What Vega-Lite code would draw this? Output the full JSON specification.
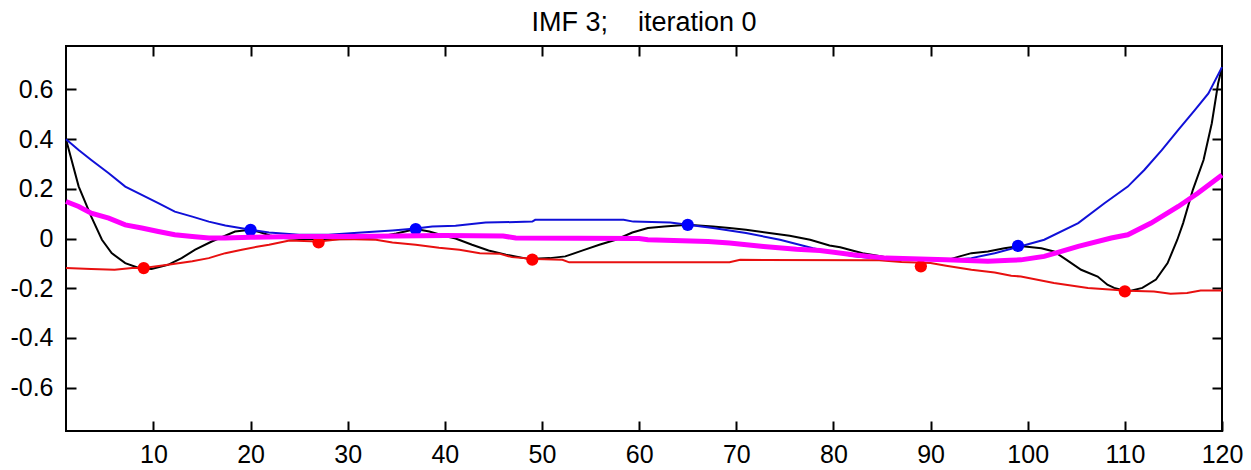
{
  "$schema": "https://vega.github.io/schema/vega-lite/v6.json",
  "width": 1156,
  "height": 385,
  "autosize": "none",
  "padding": {"left": 66, "top": 46, "right": 29, "bottom": 39},
  "background": "white",
  "config": {
    "font": "Liberation Sans",
    "view": {"stroke": "black", "strokeWidth": 2},
    "axis": {"labelFont": "Liberation Sans", "labelFontSize": 25, "labelColor": "black", "tickColor": "black", "tickWidth": 2, "grid": false, "domain": false, "title": null, "labelFlush": false, "labelOverlap": false}
  },
  "title": {"text": "IMF 3;\u00a0\u00a0\u00a0\u00a0iteration 0", "fontSize": 27, "font": "Liberation Sans", "fontWeight": "normal", "color": "black", "anchor": "middle", "baseline": "alphabetic", "offset": -13},
  "datasets": {
    "signal": [
      {"x": 1, "y": 0.40}, {"x": 2.3, "y": 0.21}, {"x": 3.6, "y": 0.088}, {"x": 4.7, "y": -0.005}, {"x": 5.7, "y": -0.059},
      {"x": 7.1, "y": -0.099}, {"x": 8.5, "y": -0.119}, {"x": 9.8, "y": -0.123}, {"x": 11.5, "y": -0.106}, {"x": 12.9, "y": -0.079},
      {"x": 14.3, "y": -0.045}, {"x": 16, "y": -0.012}, {"x": 18.4, "y": 0.028}, {"x": 20, "y": 0.035}, {"x": 21, "y": 0.025},
      {"x": 22, "y": 0.012}, {"x": 23, "y": 0.003}, {"x": 25, "y": -0.002}, {"x": 28, "y": -0.003}, {"x": 31, "y": -0.002},
      {"x": 33, "y": 0.005}, {"x": 35, "y": 0.02}, {"x": 37, "y": 0.038}, {"x": 38.4, "y": 0.028}, {"x": 40, "y": 0.01},
      {"x": 41.1, "y": 0.0}, {"x": 42.8, "y": -0.025}, {"x": 44.5, "y": -0.048}, {"x": 46.3, "y": -0.065}, {"x": 48.7, "y": -0.083},
      {"x": 50.8, "y": -0.079}, {"x": 52.4, "y": -0.072}, {"x": 54.2, "y": -0.048}, {"x": 55.9, "y": -0.025}, {"x": 57.6, "y": -0.005},
      {"x": 59.3, "y": 0.024}, {"x": 60.9, "y": 0.042}, {"x": 62.6, "y": 0.048}, {"x": 65, "y": 0.055}, {"x": 67.6, "y": 0.048},
      {"x": 69.3, "y": 0.042}, {"x": 71, "y": 0.035}, {"x": 73.4, "y": 0.022}, {"x": 75.5, "y": 0.011}, {"x": 77.6, "y": -0.005},
      {"x": 79.6, "y": -0.028}, {"x": 80.7, "y": -0.035}, {"x": 83, "y": -0.059}, {"x": 85.4, "y": -0.075}, {"x": 88, "y": -0.085},
      {"x": 91.6, "y": -0.088}, {"x": 93, "y": -0.072}, {"x": 94.2, "y": -0.059}, {"x": 95.9, "y": -0.052}, {"x": 97.6, "y": -0.039},
      {"x": 99.2, "y": -0.03}, {"x": 101.4, "y": -0.039}, {"x": 102.7, "y": -0.052}, {"x": 104, "y": -0.086}, {"x": 105.5, "y": -0.126},
      {"x": 107.2, "y": -0.153}, {"x": 108.2, "y": -0.186}, {"x": 108.9, "y": -0.199}, {"x": 110.3, "y": -0.213}, {"x": 111.8, "y": -0.199},
      {"x": 113.2, "y": -0.165}, {"x": 114.4, "y": -0.099}, {"x": 115.4, "y": -0.005}, {"x": 116, "y": 0.062}, {"x": 117, "y": 0.196},
      {"x": 118.1, "y": 0.316}, {"x": 118.95, "y": 0.464}, {"x": 119.6, "y": 0.624}, {"x": 120, "y": 0.69}
    ],
    "upper": [
      {"x": 1, "y": 0.40}, {"x": 2.3, "y": 0.356}, {"x": 3.6, "y": 0.316}, {"x": 5.4, "y": 0.263}, {"x": 7.1, "y": 0.209},
      {"x": 8.8, "y": 0.176}, {"x": 10.5, "y": 0.142}, {"x": 12.2, "y": 0.108}, {"x": 14, "y": 0.088}, {"x": 15.7, "y": 0.068},
      {"x": 17.4, "y": 0.052}, {"x": 20, "y": 0.035}, {"x": 21.9, "y": 0.024}, {"x": 25, "y": 0.015}, {"x": 28, "y": 0.015},
      {"x": 31.8, "y": 0.025}, {"x": 34.6, "y": 0.032}, {"x": 37, "y": 0.04}, {"x": 38.7, "y": 0.048}, {"x": 41.1, "y": 0.051},
      {"x": 44.2, "y": 0.064}, {"x": 49, "y": 0.068}, {"x": 49.3, "y": 0.075}, {"x": 58.4, "y": 0.075}, {"x": 59.4, "y": 0.068},
      {"x": 63.2, "y": 0.064}, {"x": 65, "y": 0.055}, {"x": 67.6, "y": 0.042}, {"x": 71, "y": 0.022}, {"x": 74.5, "y": -0.005},
      {"x": 77.9, "y": -0.039}, {"x": 79.6, "y": -0.052}, {"x": 82, "y": -0.07}, {"x": 85.4, "y": -0.086}, {"x": 91.6, "y": -0.088},
      {"x": 94.2, "y": -0.079}, {"x": 96.6, "y": -0.059}, {"x": 99.2, "y": -0.032}, {"x": 101.7, "y": -0.005}, {"x": 105.2, "y": 0.062},
      {"x": 107.9, "y": 0.142}, {"x": 110.3, "y": 0.209}, {"x": 112, "y": 0.276}, {"x": 113.8, "y": 0.356}, {"x": 115.5, "y": 0.437},
      {"x": 117.2, "y": 0.517}, {"x": 118.6, "y": 0.584}, {"x": 120, "y": 0.69}
    ],
    "lower": [
      {"x": 1, "y": -0.119}, {"x": 3.6, "y": -0.123}, {"x": 6, "y": -0.126}, {"x": 7.8, "y": -0.119}, {"x": 9, "y": -0.119},
      {"x": 11.5, "y": -0.106}, {"x": 14, "y": -0.092}, {"x": 15.7, "y": -0.079}, {"x": 17.4, "y": -0.059}, {"x": 19.1, "y": -0.045},
      {"x": 20.8, "y": -0.032}, {"x": 21.9, "y": -0.025}, {"x": 24, "y": -0.008}, {"x": 27, "y": -0.012}, {"x": 29.4, "y": -0.002},
      {"x": 32.9, "y": -0.005}, {"x": 34.6, "y": -0.016}, {"x": 37, "y": -0.025}, {"x": 39.4, "y": -0.037}, {"x": 41.5, "y": -0.045},
      {"x": 43.6, "y": -0.059}, {"x": 45.6, "y": -0.061}, {"x": 46.9, "y": -0.075}, {"x": 49.3, "y": -0.083}, {"x": 52.1, "y": -0.086},
      {"x": 52.8, "y": -0.096}, {"x": 69.3, "y": -0.096}, {"x": 70.4, "y": -0.086}, {"x": 84.7, "y": -0.088}, {"x": 87, "y": -0.095},
      {"x": 90, "y": -0.099}, {"x": 91.6, "y": -0.11}, {"x": 94.2, "y": -0.126}, {"x": 96.6, "y": -0.137}, {"x": 98.3, "y": -0.15},
      {"x": 99.3, "y": -0.153}, {"x": 102.7, "y": -0.179}, {"x": 106.2, "y": -0.199}, {"x": 110.3, "y": -0.21}, {"x": 113, "y": -0.213},
      {"x": 114.7, "y": -0.222}, {"x": 116.4, "y": -0.219}, {"x": 117.8, "y": -0.209}, {"x": 120, "y": -0.209}
    ],
    "mean": [
      {"x": 1, "y": 0.149}, {"x": 2.3, "y": 0.129}, {"x": 3.6, "y": 0.102}, {"x": 5.4, "y": 0.082}, {"x": 7.1, "y": 0.055},
      {"x": 8.8, "y": 0.042}, {"x": 10.5, "y": 0.028}, {"x": 12.2, "y": 0.015}, {"x": 14, "y": 0.008}, {"x": 15.7, "y": 0.002},
      {"x": 17.4, "y": 0.002}, {"x": 20, "y": 0.005}, {"x": 25, "y": 0.008}, {"x": 30, "y": 0.008}, {"x": 35, "y": 0.01},
      {"x": 40, "y": 0.012}, {"x": 46, "y": 0.01}, {"x": 47.3, "y": 0.002}, {"x": 60, "y": 0.0}, {"x": 60.9, "y": -0.005},
      {"x": 67.1, "y": -0.012}, {"x": 69.3, "y": -0.018}, {"x": 72.8, "y": -0.032}, {"x": 76.2, "y": -0.043}, {"x": 78.6, "y": -0.048},
      {"x": 82, "y": -0.065}, {"x": 85.4, "y": -0.079}, {"x": 91.6, "y": -0.086}, {"x": 95.9, "y": -0.092}, {"x": 98.2, "y": -0.088},
      {"x": 99.3, "y": -0.086}, {"x": 101.7, "y": -0.072}, {"x": 105.2, "y": -0.032}, {"x": 108.6, "y": 0.002}, {"x": 110.3, "y": 0.015},
      {"x": 112.7, "y": 0.062}, {"x": 115.5, "y": 0.129}, {"x": 117.5, "y": 0.182}, {"x": 120, "y": 0.256}
    ],
    "maxima": [
      {"x": 20, "y": 0.035}, {"x": 37, "y": 0.038}, {"x": 65, "y": 0.055}, {"x": 99, "y": -0.03}
    ],
    "minima": [
      {"x": 9, "y": -0.119}, {"x": 27, "y": -0.016}, {"x": 49, "y": -0.085}, {"x": 89, "y": -0.112}, {"x": 110, "y": -0.213}
    ]
  },
  "resolve": {"axis": {"x": "independent", "y": "independent"}},
  "layer": [
    {
      "data": {"name": "signal"},
      "mark": {"type": "line", "color": "black", "strokeWidth": 2},
      "encoding": {
        "x": {"field": "x", "type": "quantitative", "scale": {"domain": [1, 120], "nice": false, "zero": false},
              "axis": {"orient": "bottom", "values": [10, 20, 30, 40, 50, 60, 70, 80, 90, 100, 110, 120], "tickSize": -10, "labelPadding": 21}},
        "y": {"field": "y", "type": "quantitative", "scale": {"domain": [-0.775, 0.775], "nice": false, "zero": false},
              "axis": {"orient": "left", "values": [-0.6, -0.4, -0.2, 0, 0.2, 0.4, 0.6], "tickSize": -10, "labelPadding": 23,
                       "labelExpr": "datum.value == 0 ? '0' : replace(format(datum.value, '.1f'), '\u2212', '-')"}}
      }
    },
    {
      "data": {"name": "upper"},
      "mark": {"type": "line", "color": "#1010d8", "strokeWidth": 2},
      "encoding": {
        "x": {"field": "x", "type": "quantitative",
              "axis": {"orient": "top", "values": [10, 20, 30, 40, 50, 60, 70, 80, 90, 100, 110], "tickSize": -10, "labels": false}},
        "y": {"field": "y", "type": "quantitative",
              "axis": {"orient": "right", "values": [-0.6, -0.4, -0.2, 0, 0.2, 0.4, 0.6], "tickSize": -10, "labels": false}}
      }
    },
    {
      "data": {"name": "lower"},
      "mark": {"type": "line", "color": "#e81010", "strokeWidth": 2},
      "encoding": {
        "x": {"field": "x", "type": "quantitative", "axis": null},
        "y": {"field": "y", "type": "quantitative", "axis": null}
      }
    },
    {
      "data": {"name": "maxima"},
      "mark": {"type": "circle", "color": "#0000ff", "size": 150, "opacity": 1},
      "encoding": {
        "x": {"field": "x", "type": "quantitative", "axis": null},
        "y": {"field": "y", "type": "quantitative", "axis": null}
      }
    },
    {
      "data": {"name": "minima"},
      "mark": {"type": "circle", "color": "#ff0000", "size": 150, "opacity": 1},
      "encoding": {
        "x": {"field": "x", "type": "quantitative", "axis": null},
        "y": {"field": "y", "type": "quantitative", "axis": null}
      }
    },
    {
      "data": {"name": "mean"},
      "mark": {"type": "line", "color": "#ff00ff", "strokeWidth": 5},
      "encoding": {
        "x": {"field": "x", "type": "quantitative", "axis": null},
        "y": {"field": "y", "type": "quantitative", "axis": null}
      }
    }
  ]
}
